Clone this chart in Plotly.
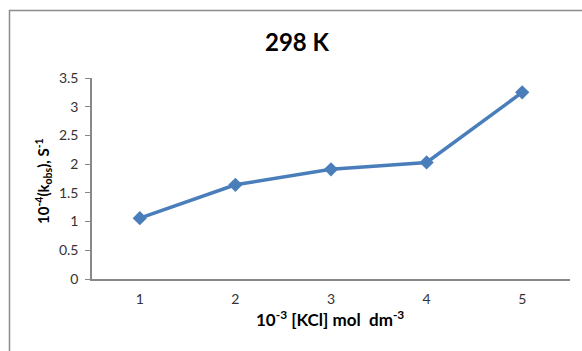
import plotly.graph_objects as go

categories = ["1", "2", "3", "4", "5"]
kobs = [1.06, 1.64, 1.91, 2.03, 3.25]
y_ticks = [0, 0.5, 1, 1.5, 2, 2.5, 3, 3.5]
y_tick_labels = ["0", "0.5", "1", "1.5", "2", "2.5", "3", "3.5"]

W, H = 582, 351
L, R, T, B = 92, 12, 78, 72
pw, ph = W - L - R, H - T - B

def px(x):
    return (x - L) / pw

def py(y):
    return (H - B - y) / ph

FONT = "Lato, Liberation Sans, sans-serif"

fig = go.Figure()
fig.add_trace(go.Scatter(
    x=categories, y=kobs, mode="lines+markers",
    line=dict(color="#4a7ebb", width=3.5),
    marker=dict(symbol="diamond", size=11, color="#4a7ebb"),
    showlegend=False, hoverinfo="skip",
))

fig.update_layout(
    width=W, height=H,
    margin=dict(l=L, r=R, t=T, b=B, autoexpand=False),
    paper_bgcolor="white", plot_bgcolor="white",
    font=dict(family=FONT, size=14, color="#333333"),
    xaxis=dict(type="category", range=[-0.5, 4.5], showgrid=False,
               showline=True, linecolor="#888888", linewidth=1.5,
               ticks="", ticklabelstandoff=6,
               tickfont=dict(family=FONT, size=14, color="#333333"),
               zeroline=False),
    yaxis=dict(range=[0, 3.5], tickvals=y_ticks, ticktext=y_tick_labels,
               showgrid=False, showline=True, linecolor="#888888", linewidth=1.5,
               ticks="outside", ticklen=5, tickcolor="#888888",
               ticklabelstandoff=4,
               tickfont=dict(family=FONT, size=14, color="#333333"),
               zeroline=False),
    shapes=[dict(type="rect", xref="paper", yref="paper",
                 x0=px(9.5), x1=px(W + 20), y0=py(H + 20), y1=py(10.5),
                 line=dict(color="#8c8c8c", width=1.5), layer="below")],
    annotations=[
        dict(text="<b>298 K</b>", xref="paper", yref="paper",
             x=px(297), y=py(41), showarrow=False,
             xanchor="center", yanchor="middle",
             font=dict(family=FONT, size=24, color="black")),
        dict(text="<b>10<sup>-4</sup>(k<sub>obs</sub>), S<sup>-1</sup></b>",
             xref="paper", yref="paper", x=px(43), y=py(181),
             showarrow=False, textangle=-90,
             xanchor="center", yanchor="middle",
             font=dict(family=FONT, size=15, color="black")),
        dict(text="<b>10<sup>-3</sup> [KCl] mol  dm<sup>-3</sup></b>",
             xref="paper", yref="paper", x=px(330), y=py(318),
             showarrow=False, xanchor="center", yanchor="middle",
             font=dict(family=FONT, size=17, color="black")),
    ],
)

fig.write_html("out.html", config={"displayModeBar": False},
               post_script="document.body.style.margin='0';document.body.style.overflow='hidden';")
